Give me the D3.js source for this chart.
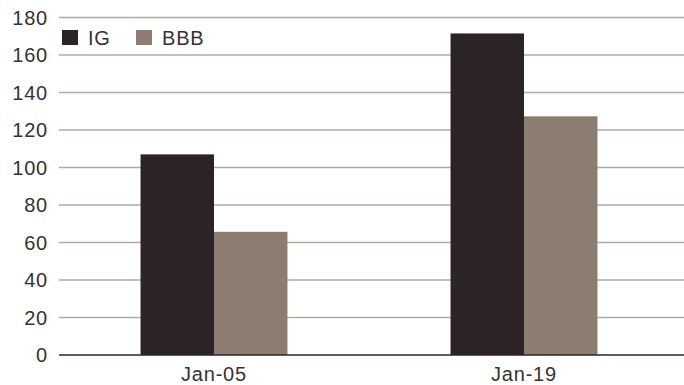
<!DOCTYPE html>
<html>
<head>
<meta charset="utf-8">
<script src="https://cdn.jsdelivr.net/npm/d3@7"></script>
<style>
  body { margin: 0; background: #fff; }
  text { font-family: "Liberation Sans Narrow", "Liberation Sans", Arial, sans-serif; fill: #333; letter-spacing: 0.8px; }
</style>
</head>
<body>
<script>
var periods = ["Jan-05", "Jan-19"];
var series = ["IG", "BBB"];
var igValues = [107, 171.5];
var bbbValues = [65.7, 127.3];
var yTicks = [0, 20, 40, 60, 80, 100, 120, 140, 160, 180];

var colors = { IG: "#2c2424", BBB: "#8b7e70" };

var width = 684, height = 385;

var rows = periods.map(function (p, i) {
  return { period: p, IG: igValues[i], BBB: bbbValues[i] };
});

var svg = d3.select("body").append("svg")
    .attr("width", width)
    .attr("height", height);

var y = d3.scaleLinear().domain([0, 180]).range([355, 17.5]);

var x0 = d3.scaleBand()
    .domain(periods)
    .range([59, 679])
    .paddingInner(0.526)
    .paddingOuter(0.263);

var x1 = d3.scaleBand()
    .domain(series)
    .range([0, x0.bandwidth()]);

// gridlines
svg.append("g")
  .selectAll("line")
  .data(yTicks.filter(function (d) { return d > 0; }))
  .enter().append("line")
    .attr("x1", 59)
    .attr("x2", width)
    .attr("y1", function (d) { return y(d); })
    .attr("y2", function (d) { return y(d); })
    .attr("stroke", "#b3aaa1")
    .attr("stroke-width", 1.5);

// y tick labels
svg.append("g")
  .selectAll("text")
  .data(yTicks)
  .enter().append("text")
    .attr("x", 48)
    .attr("y", function (d) { return y(d); })
    .attr("dy", "0.36em")
    .attr("text-anchor", "end")
    .style("font-size", "20px")
    .text(function (d) { return d; });

// bars
svg.append("g")
  .selectAll("g")
  .data(rows)
  .enter().append("g")
    .attr("transform", function (d) { return "translate(" + x0(d.period) + ",0)"; })
  .selectAll("rect")
  .data(function (d) { return series.map(function (s) { return { key: s, value: d[s] }; }); })
  .enter().append("rect")
    .attr("x", function (d) { return x1(d.key); })
    .attr("width", x1.bandwidth())
    .attr("y", function (d) { return y(d.value); })
    .attr("height", function (d) { return y(0) - y(d.value); })
    .attr("fill", function (d) { return colors[d.key]; });

// zero axis
svg.append("line")
    .attr("x1", 59)
    .attr("x2", width)
    .attr("y1", y(0))
    .attr("y2", y(0))
    .attr("stroke", "#2c2424")
    .attr("stroke-width", 1.5);

// x labels
svg.append("g")
  .selectAll("text")
  .data(periods)
  .enter().append("text")
    .attr("x", function (d) { return x0(d) + x0.bandwidth() / 2; })
    .attr("y", 381)
    .attr("text-anchor", "middle")
    .style("font-size", "20px")
    .text(function (d) { return d; });

// legend
var legendX = [62, 136];
var legend = svg.append("g")
  .selectAll("g")
  .data(series)
  .enter().append("g")
    .attr("transform", function (d, i) { return "translate(" + legendX[i] + ",30)"; });

legend.append("rect")
    .attr("width", 16)
    .attr("height", 15)
    .attr("fill", function (d) { return colors[d]; });

legend.append("text")
    .attr("x", 26)
    .attr("y", 7.5)
    .attr("dy", "0.36em")
    .style("font-size", "20px")
    .text(function (d) { return d; });
</script>
</body>
</html>
